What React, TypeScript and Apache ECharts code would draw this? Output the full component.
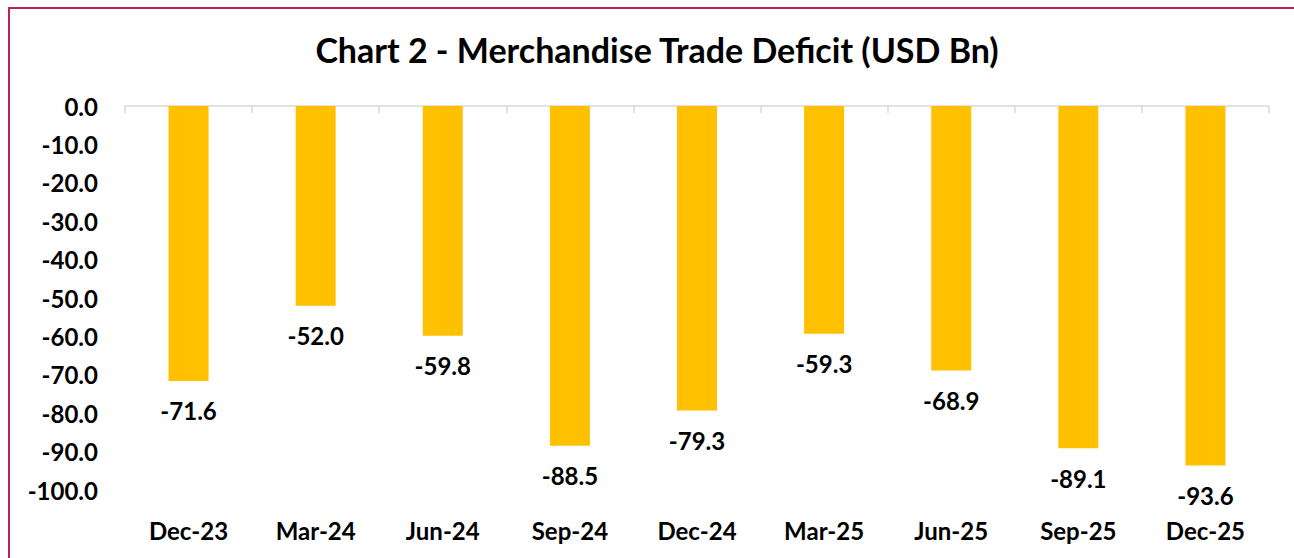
import React, { useEffect, useRef } from "react";
import * as echarts from "echarts";

const categories = ["Dec-23", "Mar-24", "Jun-24", "Sep-24", "Dec-24", "Mar-25", "Jun-25", "Sep-25", "Dec-25"];
const deficit = [-71.6, -52.0, -59.8, -88.5, -79.3, -59.3, -68.9, -89.1, -93.6];
const titleText = "Chart 2 - Merchandise Trade Deficit (USD Bn)";

const FONT = "Lato";

export default function App() {
  const ref = useRef<HTMLDivElement>(null);
  useEffect(() => {
    if (!ref.current) return;
    const chart = echarts.init(ref.current, null, { renderer: "svg" });
    chart.setOption({
      animation: false,
      backgroundColor: "#ffffff",
      title: {
        text: titleText,
        left: "center",
        top: 18,
        textStyle: { fontFamily: FONT, fontWeight: "bold", fontSize: 34, color: "#000" },
      },
      grid: { left: 115, top: 97, width: 1144, height: 384, containLabel: false },
      xAxis: [
        {
          type: "category",
          data: categories,
          position: "top",
          axisLine: { show: true, onZero: false, lineStyle: { color: "#D9D9D9", width: 1.5 } },
          axisTick: { show: true, inside: true, length: 7, lineStyle: { color: "#D9D9D9", width: 1.5 } },
          axisLabel: { show: false },
          splitLine: { show: false },
        },
        {
          type: "category",
          data: categories,
          position: "bottom",
          axisLine: { show: false, onZero: false },
          axisTick: { show: false },
          axisLabel: { margin: 28, fontFamily: FONT, fontWeight: "bold", fontSize: 24, color: "#000" },
          splitLine: { show: false },
        },
      ],
      yAxis: {
        type: "value",
        min: -100,
        max: 0,
        interval: 10,
        axisLine: { show: false },
        axisTick: { show: false },
        splitLine: { show: false },
        axisLabel: {
          margin: 27,
          fontFamily: FONT,
          fontWeight: "bold",
          fontSize: 24,
          color: "#000",
          formatter: (v: number) => v.toFixed(1),
        },
      },
      series: [
        {
          type: "bar",
          xAxisIndex: 0,
          data: deficit,
          barWidth: 40,
          itemStyle: { color: "#FFC000" },
          label: {
            show: true,
            position: "bottom",
            distance: 18,
            fontFamily: FONT,
            fontWeight: "bold",
            fontSize: 24,
            color: "#000",
            formatter: (p: any) => Number(p.value).toFixed(1),
          },
        },
      ],
    });
    return () => chart.dispose();
  }, []);

  return (
    <div
      style={{
        position: "fixed",
        left: 8,
        top: 7,
        width: 1310,
        height: 570,
        border: "2px solid #BF2150",
        background: "#fff",
        boxSizing: "border-box",
      }}
    >
      <div ref={ref} style={{ width: 1294, height: 560 }} />
    </div>
  );
}
